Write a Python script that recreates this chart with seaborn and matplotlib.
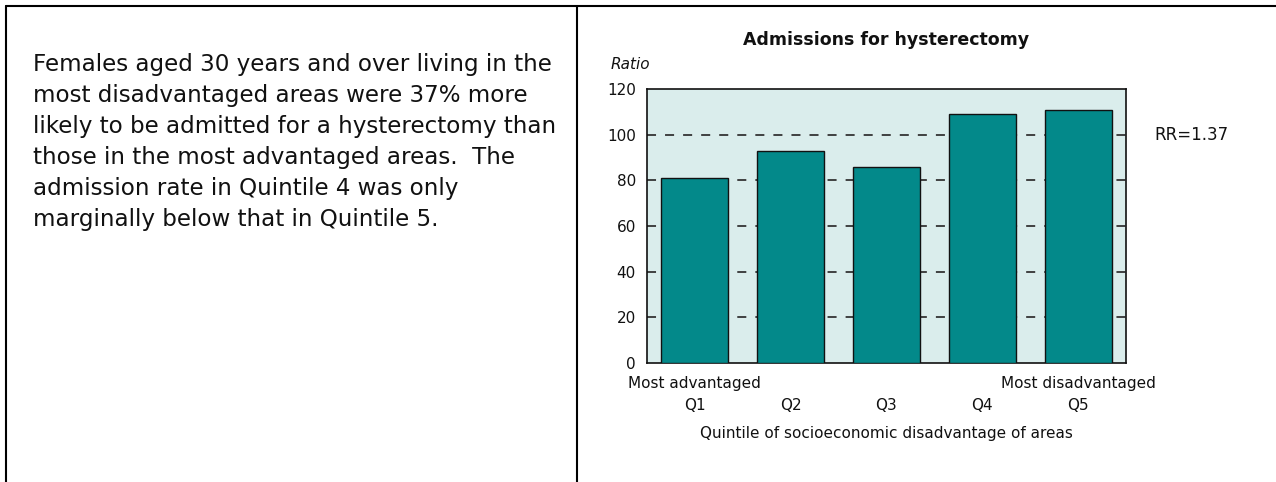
import matplotlib
matplotlib.use("Agg")
import matplotlib.pyplot as plt
import seaborn as sns
import pandas as pd
from matplotlib.lines import Line2D

categories = ["Q1", "Q2", "Q3", "Q4", "Q5"]
ratios = [81, 93, 86, 109, 111]
tick_labels = ["Most advantaged\nQ1", "\nQ2", "\nQ3", "\nQ4", "Most disadvantaged\nQ5"]
y_ticks = [0, 20, 40, 60, 80, 100, 120]
title = "Admissions for hysterectomy"
x_label = "Quintile of socioeconomic disadvantage of areas"
y_label = "Ratio"
rr_text = "RR=1.37"
body_text = ("Females aged 30 years and over living in the\n"
             "most disadvantaged areas were 37% more\n"
             "likely to be admitted for a hysterectomy than\n"
             "those in the most advantaged areas.  The\n"
             "admission rate in Quintile 4 was only\n"
             "marginally below that in Quintile 5.")

sns.set_theme(style="white")
plt.rcParams["font.family"] = ["DejaVu Sans"]

df = pd.DataFrame({"Quintile": categories, "Ratio": ratios})

W, H = 1276, 482
fig = plt.figure(figsize=(W / 100, H / 100), dpi=100)

ax = fig.add_axes([647 / W, 1 - 363 / H, (1126 - 647) / W, (363 - 89) / H])
ax.set_facecolor("#DAEDEC")
sns.barplot(data=df, x="Quintile", y="Ratio", ax=ax, color="#03898A",
            saturation=1, width=0.7, edgecolor="#111111", linewidth=1.0, zorder=3)
ax.set_xlim(-0.5, 4.5)
ax.set_ylim(0, 120)
ax.set_yticks(y_ticks)
ax.set_yticklabels([str(v) for v in y_ticks], fontsize=11, color="#111111")
ax.set_xticks(range(len(categories)))
ax.set_xticklabels(tick_labels, fontsize=11, color="#111111", linespacing=1.6)
ax.tick_params(axis="y", length=0, pad=8)
ax.tick_params(axis="x", length=0, pad=9.5)
for y in y_ticks[1:-1]:
    ax.axhline(y, color="#333333", linestyle=(0, (5, 5)), linewidth=1.3, zorder=1)
for s in ax.spines.values():
    s.set_visible(True)
    s.set_color("#111111")
    s.set_linewidth(1.2)
ax.set_xlabel(x_label, fontsize=11, color="#111111", labelpad=9)
ax.set_ylabel("")
ax.set_title(title, fontsize=12.5, fontweight="bold", color="#111111", pad=32)
ax.text(-0.075, 1.09, y_label, transform=ax.transAxes, fontsize=11,
        fontstyle="italic", color="#111111", ha="left", va="center")
ax.text(1.06, 100, rr_text, transform=ax.get_yaxis_transform(), fontsize=12,
        color="#111111", ha="left", va="center")

fig.text(33 / W, 1 - 53 / H, body_text, fontsize=16.6, color="#111111",
         ha="left", va="top", linespacing=1.45)

lw = 1.5
fig.add_artist(Line2D([6 / W, 1], [1 - 6 / H, 1 - 6 / H], transform=fig.transFigure,
                      color="black", linewidth=lw))
fig.add_artist(Line2D([6 / W, 6 / W], [0, 1 - 6 / H], transform=fig.transFigure,
                      color="black", linewidth=lw))
fig.add_artist(Line2D([577 / W, 577 / W], [0, 1 - 6 / H], transform=fig.transFigure,
                      color="black", linewidth=lw))

fig.savefig("out.png", dpi=100, facecolor="white")
